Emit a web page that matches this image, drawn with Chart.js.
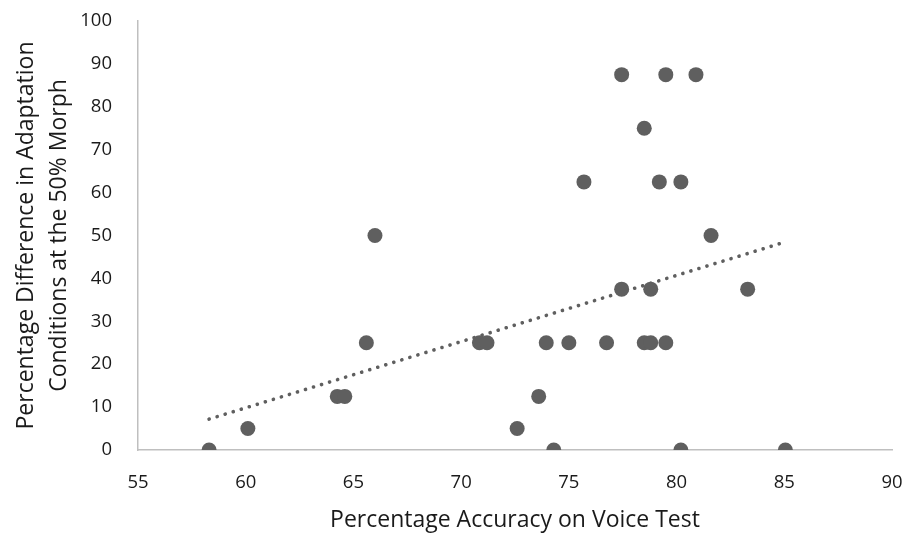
<!DOCTYPE html>
<html>
<head>
<meta charset="utf-8">
<script src="https://cdn.jsdelivr.net/npm/chart.js@4.4.1/dist/chart.umd.min.js"></script>
<style>
    body { margin: 0; background: #ffffff; }
    #wrap { width: 906px; height: 534px; }
</style>
</head>
<body>
<div id="wrap"><canvas id="scatterChart" width="906" height="534"></canvas></div>
<script>
// accuracy on the voice test (x) and adaptation difference (y)
const accuracy = [
    58.3, 60.1, 64.25, 64.6, 65.6, 66.0, 70.85, 71.2, 72.6, 73.6,
    73.95, 74.3, 75.0, 75.7, 76.75, 77.45, 77.45, 78.5, 78.5, 78.8,
    78.8, 79.2, 79.5, 79.5, 80.2, 80.2, 80.9, 81.6, 83.3, 85.05
];
const difference = [
    0, 5, 12.5, 12.5, 25, 50, 25, 25, 5, 12.5,
    25, 0, 25, 62.5, 25, 87.5, 37.5, 75, 25, 37.5,
    25, 62.5, 87.5, 25, 62.5, 0, 87.5, 50, 37.5, 0
];
// linear trendline ends as drawn in the reference
const trendX = [58.3, 85.05];
const trendY = [7.2, 48.5];

const xTicks = [55, 60, 65, 70, 75, 80, 85, 90];
const yTicks = [0, 10, 20, 30, 40, 50, 60, 70, 80, 90, 100];

const fontFamily = "'Open Sans', 'Noto Sans', sans-serif";
const pointColor = "#5f5f5f";
const textColor = "#1a1a1a";

document.addEventListener("DOMContentLoaded", function () {
    const ctx = document.getElementById("scatterChart").getContext("2d");
    new Chart(ctx, {
        type: "scatter",
        data: {
            datasets: [
                {
                    label: "Participants",
                    data: accuracy.map((x, i) => ({ x: x, y: difference[i] })),
                    backgroundColor: pointColor,
                    borderColor: pointColor,
                    pointRadius: 7.5,
                    pointBorderWidth: 0,
                    order: 1,
                },
                {
                    label: "Linear trend",
                    type: "line",
                    data: trendX.map((x, i) => ({ x: x, y: trendY[i] })),
                    borderColor: pointColor,
                    borderWidth: 3.6,
                    borderCapStyle: "round",
                    borderDash: [0.1, 8.3],
                    pointRadius: 0,
                    fill: false,
                    order: 2,
                },
            ],
        },
        options: {
            responsive: false,
            animation: false,
            layout: {
                padding: { top: 21, right: 14, bottom: 0, left: 0 },
            },
            plugins: {
                legend: { display: false },
                tooltip: { enabled: false },
            },
            scales: {
                x: {
                    type: "linear",
                    min: 55,
                    max: 90,
                    afterBuildTicks: (scale) => {
                        scale.ticks = xTicks.map((v) => ({ value: v }));
                    },
                    afterFit: (scale) => {
                        scale.height = 84;
                        scale.paddingLeft = 0;
                        scale.paddingRight = 0;
                    },
                    grid: { display: false, drawTicks: false },
                    border: { display: true, color: "#bfbfbf", width: 1.5 },
                    ticks: {
                        color: textColor,
                        padding: 22,
                        font: { family: fontFamily, size: 18.5 },
                    },
                    title: {
                        display: true,
                        text: "Percentage Accuracy on Voice Test",
                        color: textColor,
                        padding: { top: 2, bottom: 0 },
                        font: { family: fontFamily, size: 23 },
                    },
                },
                y: {
                    min: 0,
                    max: 100,
                    afterBuildTicks: (scale) => {
                        scale.ticks = yTicks.map((v) => ({ value: v }));
                    },
                    afterFit: (scale) => {
                        scale.width = 138;
                        scale.paddingTop = 0;
                        scale.paddingBottom = 0;
                    },
                    grid: { display: false, drawTicks: false },
                    border: { display: true, color: "#bfbfbf", width: 1.5 },
                    ticks: {
                        color: textColor,
                        padding: 26,
                        font: { family: fontFamily, size: 18.5 },
                    },
                    title: {
                        display: true,
                        text: ["Percentage Difference in Adaptation", "Conditions at the 50% Morph"],
                        color: textColor,
                        padding: { top: 10, bottom: 0 },
                        font: { family: fontFamily, size: 23, lineHeight: 1.43 },
                    },
                },
            },
        },
    });
});
</script>
</body>
</html>
